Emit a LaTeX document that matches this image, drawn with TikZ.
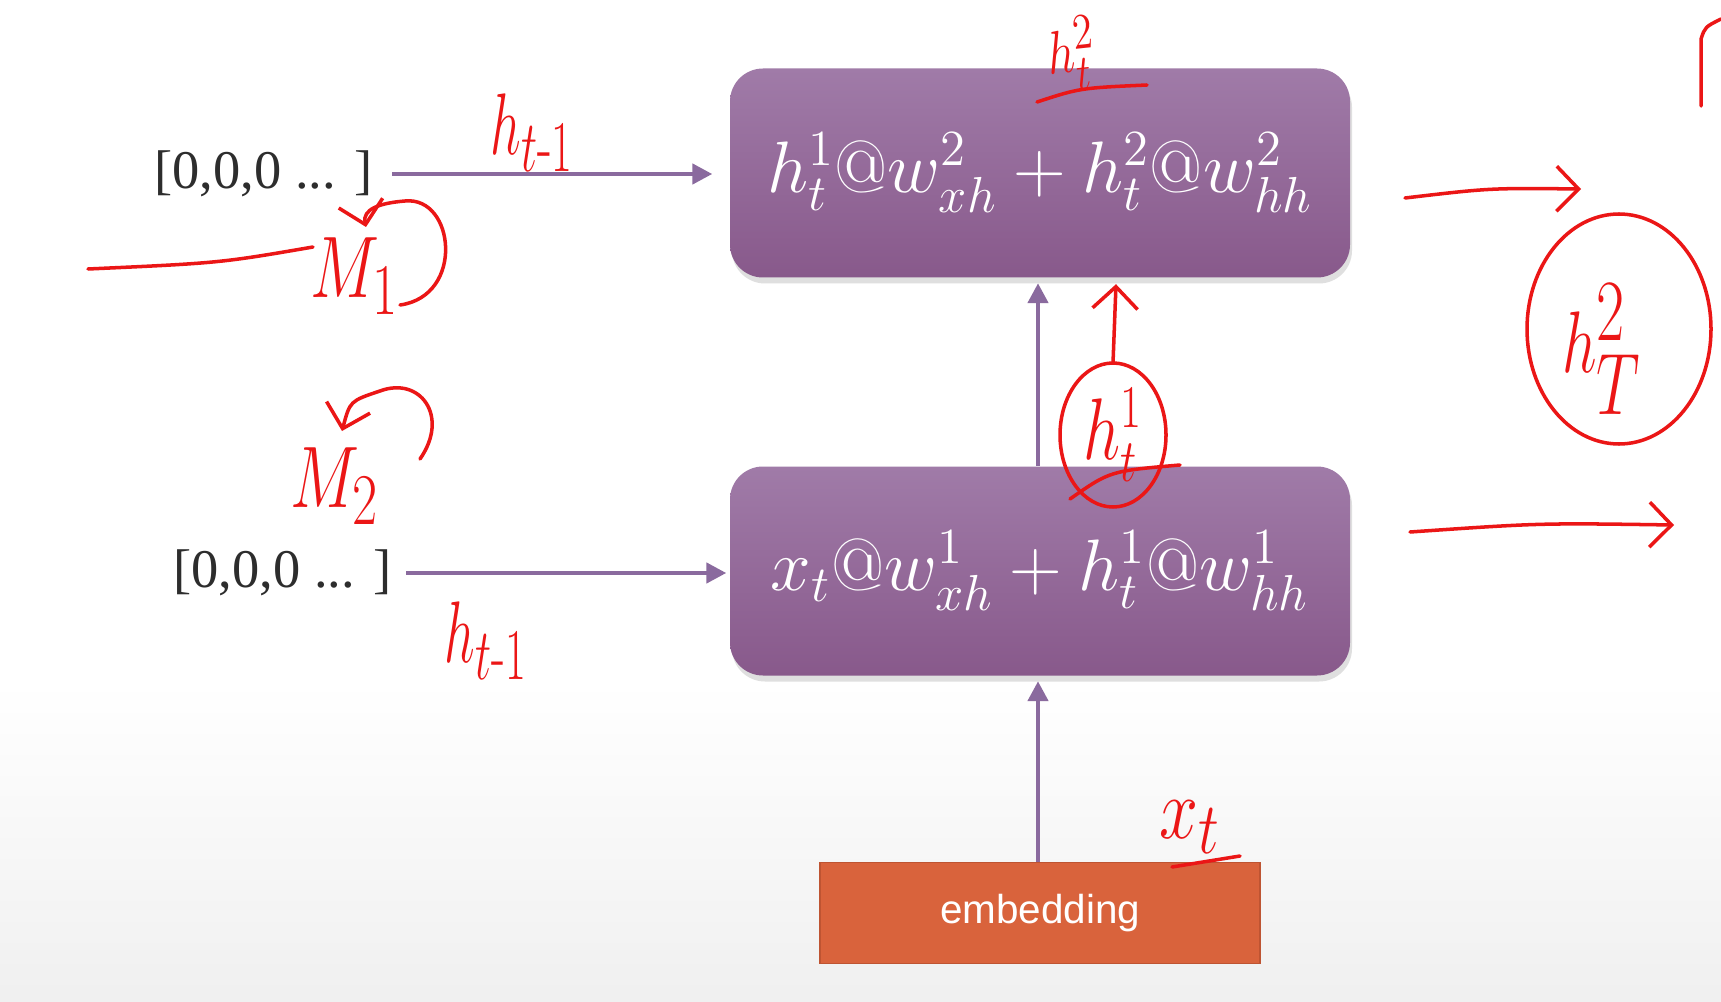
\documentclass[tikz,border=0pt]{standalone}
\usepackage{amsmath}
\usepackage{fontspec}
\usetikzlibrary{arrows.meta,positioning,shadows,calc}
\newfontfamily\slidefont{Liberation Serif}
\newfontfamily\embfont{Liberation Sans}
\definecolor{celltop}{RGB}{160,123,168}
\definecolor{cellbot}{RGB}{136,89,139}
\definecolor{linkpurple}{RGB}{138,106,158}
\definecolor{embfill}{RGB}{217,99,60}
\definecolor{embline}{RGB}{190,84,50}
\definecolor{textgray}{RGB}{45,45,45}
\definecolor{inkred}{RGB}{235,22,22}

\begin{document}
\begin{tikzpicture}[
  cell/.style={rounded corners=0.33cm, minimum width=6.2cm, minimum height=2.09cm,
    top color=celltop, bottom color=cellbot, text=white, font=\fontsize{21}{24}\selectfont,
    drop shadow={opacity=0.25, shadow xshift=0.02cm, shadow yshift=-0.06cm}},
  zeros/.style={font=\slidefont\fontsize{15.5}{18}\selectfont, text=textgray, inner sep=0pt},
  link/.style={-{Triangle[length=0.2cm, width=0.2cm]}, line width=1.3pt, draw=linkpurple},
  pen/.style={draw=inkred, line width=1pt, line cap=round, line join=round},
  penarrow/.style={pen, -{Straight Barb[length=0.22cm, width=0.45cm]}},
  ink/.style={text=inkred, inner sep=0pt}
]
  % Slide background (canvas 17.21 x 10.01)
  \fill[white] (0,0) rectangle (17.21,10.01);
  \shade[top color=white, bottom color=gray!12] (0,0) rectangle (17.21,3.2);
  \useasboundingbox (0,0) rectangle (17.21,10.01);

  % RNN cells (layer 2 on top, layer 1 below)
  \node[cell] (cell2) at (10.40, 8.28) {$h_t^1@w_{xh}^2 + h_t^2@w_{hh}^2$};
  \node[cell] (cell1) at (10.40, 4.30) {$x_t@w_{xh}^1 + h_t^1@w_{hh}^1$};
  \node[draw=embline, fill=embfill, minimum width=4.4cm, minimum height=1.01cm,
        text=white, font=\embfont\fontsize{11.5}{13}\selectfont] (emb) at (10.40, 0.88) {embedding};

  % Initial hidden states
  \node[zeros, anchor=east] (init2) at (3.73, 8.27) {[0,0,0 ... ]};
  \node[zeros, anchor=east] (init1) at (3.92, 4.28) {[0,0,0 ... ]};

  % Purple connectors
  \draw[link, shorten <=0.19cm, shorten >=0.17cm] (init2.east) -- (cell2.west |- init2.east);
  \draw[link, shorten <=0.14cm, shorten >=0.03cm] (init1.east) -- (cell1.west |- init1.east);
  \draw[link, shorten >=0.05cm] ([xshift=-0.02cm]emb.north) -- ([xshift=-0.02cm]cell1.south);
  \draw[link, shorten >=0.05cm] ([xshift=-0.02cm]cell1.north) -- ([xshift=-0.02cm]cell2.south);

  % Hand-written notes (red pen)
  \node[ink, font=\fontsize{19}{21}\selectfont, rotate=6] (htwo) at (10.72, 9.47) {\scalebox{0.8}[1]{$h_t^2$}};
  \coordinate (htwoa) at (10.37, 8.99);
  \coordinate (htwob) at (11.47, 9.16);
  \draw[pen] (htwoa) .. controls (10.80, 9.13) .. (htwob);

  \node[ink, font=\fontsize{32}{34}\selectfont] (hprev2) at (5.32, 8.68) {\scalebox{0.62}[1]{$h_{t\text{-}1}$}};
  \node[ink, font=\fontsize{30}{32}\selectfont] (hprev1) at (4.86, 3.60) {\scalebox{0.62}[1]{$h_{t\text{-}1}$}};

  \node[ink, font=\fontsize{28}{30}\selectfont] (mone) at (3.55, 7.25) {\scalebox{0.75}[1]{$M_1$}};
  \coordinate (strokeL) at (0.88, 7.32);
  \coordinate (strokeR) at (3.13, 7.54);
  \draw[pen] (strokeL) .. controls (2.2, 7.38) .. (strokeR);
  \coordinate (curl1) at (4.00, 6.96);
  \draw[penarrow] (curl1) .. controls (4.65, 7.05) and (4.55, 8.05) .. (4.05, 8.0)
                  .. controls (3.80, 7.98) and (3.62, 7.92) .. (3.66, 7.74);

  \node[ink, font=\fontsize{28}{30}\selectfont] (mtwo) at (3.35, 5.15) {\scalebox{0.75}[1]{$M_2$}};
  \coordinate (curl2) at (4.20, 5.42);
  \draw[penarrow] (curl2) .. controls (4.50, 5.85) and (4.20, 6.25) .. (3.80, 6.10)
                  .. controls (3.50, 6.00) .. (3.42, 5.70);

  \node[ink, font=\fontsize{24}{26}\selectfont] (hone) at (11.13, 5.66) {\scalebox{0.75}[1]{$h_t^1$}};
  \draw[pen] (hone) ellipse [x radius=0.53cm, y radius=0.72cm];
  \draw[penarrow] ([yshift=0.72cm]hone.center) -- ([xshift=0.76cm,yshift=-0.06cm]cell2.south);
  \coordinate (slashA) at (10.70, 5.02);
  \coordinate (slashB) at (11.80, 5.36);
  \draw[pen] (slashA) .. controls (11.10, 5.30) .. (slashB);

  \node[ink, font=\fontsize{30}{32}\selectfont] (xt) at (11.90, 1.74) {\scalebox{0.8}[1]{$x_t$}};
  \coordinate (xtA) at (11.72, 1.34);
  \coordinate (xtB) at (12.40, 1.45);
  \draw[pen] (xtA) -- (xtB);

  \node[ink, font=\fontsize{34}{36}\selectfont] (hT) at (16.02, 6.52) {\scalebox{0.7}[1]{$h_T^2$}};
  \draw[pen] (16.19, 6.72) ellipse [x radius=0.92cm, y radius=1.15cm];

  % Arrows to the right
  \coordinate (out2a) at (14.05, 8.03);
  \coordinate (out2b) at (15.81, 8.12);
  \coordinate (out1a) at (14.10, 4.69);
  \coordinate (out1b) at (16.74, 4.76);
  \draw[penarrow] (out2a) .. controls (14.9, 8.13) .. (out2b);
  \draw[penarrow] (out1a) .. controls (15.4, 4.78) .. (out1b);

  % Partial stroke at the right edge
  \coordinate (edgeA) at (17.01, 8.95);
  \draw[pen] (edgeA) -- (17.01, 9.62) .. controls (17.05, 9.74) .. (17.21, 9.82);
\end{tikzpicture}
\end{document}
